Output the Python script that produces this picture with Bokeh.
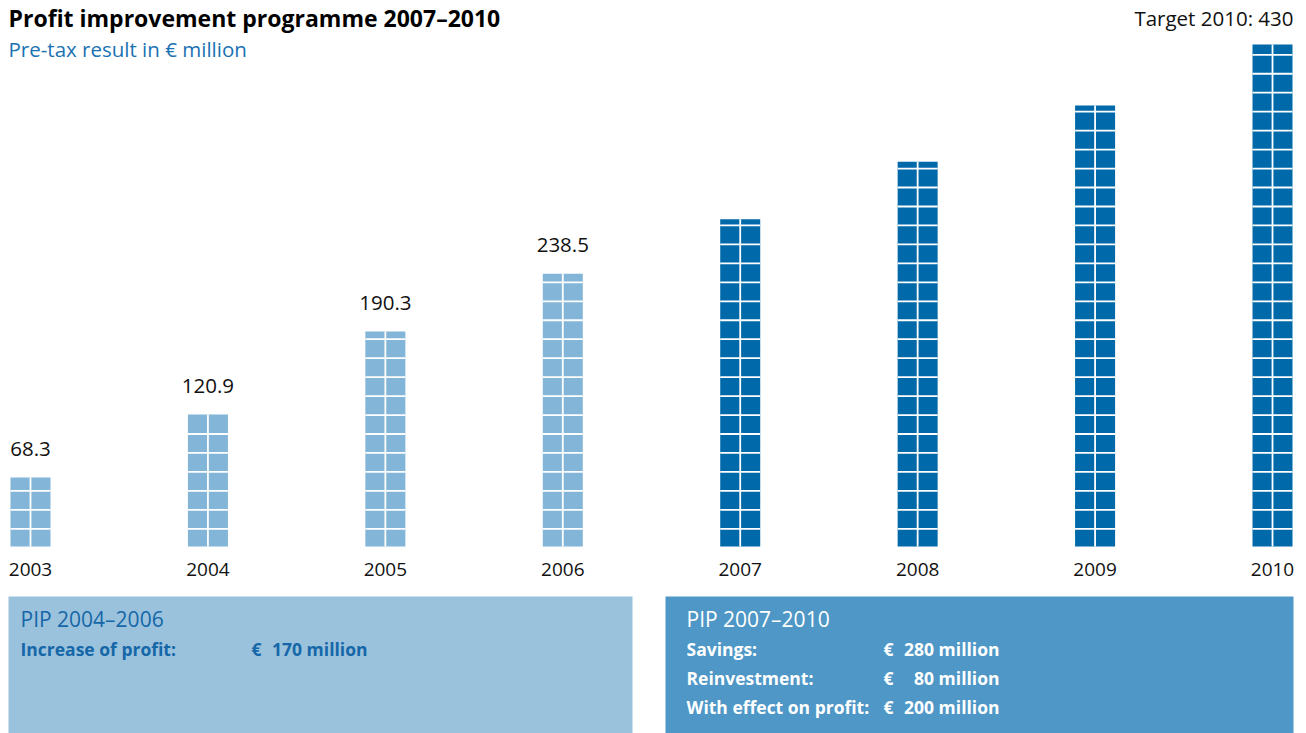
from bokeh.plotting import figure
from bokeh.models import Range1d, ColumnDataSource
from bokeh.core.properties import value
from bokeh.embed import file_html
from bokeh.resources import INLINE

# ---- data ----
years = [2003, 2004, 2005, 2006, 2007, 2008, 2009, 2010]
results = [68.3, 120.9, 190.3, 238.5, 284, 332, 379, 430]
value_labels = ["68.3", "120.9", "190.3", "238.5", "", "", "", ""]
year_labels = [str(y) for y in years]
target_label = "Target 2010: 430"
title = "Profit improvement programme 2007\u20132010"
subtitle = "Pre-tax result in \u20ac million"
pip1_title = "PIP 2004\u20132006"
pip1_rows = ["Increase of profit:"]
pip1_vals = ["170 million"]
pip2_title = "PIP 2007\u20132010"
pip2_rows = ["Savings:", "Reinvestment:", "With effect on profit:"]
pip2_vals = ["280 million", "80 million", "200 million"]

# ---- styles ----
LIGHT = "#82b5d7"
DARK = "#0069aa"
BOX1 = "#9bc2dd"
BOX2 = "#4e97c6"
TXT_BLUE = "#1a72b3"
BOX1_TXT = "#1567a7"
FONT = "Open Sans"

W, H = 1300, 733
KX = 177.43          # px per year
X0PX = 30            # px of first bar centre
BASE = 10.66         # value at bar baseline
S = 1.1971           # px per value unit
BASEPX = 546

def X(px):
    return years[0] + (px - X0PX) / KX

def Y(py):
    return BASE + (BASEPX - py) / S

def TYv(py, size):
    # baseline correction for text rendering
    return Y(py - 0.42 * size)

p = figure(width=W, height=H, output_backend="svg", toolbar_location=None,
           x_range=Range1d(X(0), X(W)), y_range=Range1d(Y(H), Y(0)),
           x_axis_location=None, y_axis_location=None, min_border=0,
           tools="")
p.outline_line_color = None
p.xgrid.visible = False
p.ygrid.visible = False
p.background_fill_color = "white"
p.border_fill_color = "white"

colors = [LIGHT if y <= 2006 else DARK for y in years]
bw = 40 / KX
src = ColumnDataSource(dict(x=years, top=results, color=colors,
                            vl=value_labels, yl=year_labels))
p.vbar(x="x", top="top", bottom=BASE, width=bw, fill_color="color",
       line_color=None, source=src)

# cell pattern (white lines)
x0s, x1s, y0s, y1s = [], [], [], []
cell = 18.96
first = 17.7
for xv, tv in zip(years, results):
    k = 0
    while True:
        lv = BASE + (first + cell * k) / S
        if lv > tv - 1.0 / S:
            break
        x0s.append(xv - bw / 2); x1s.append(xv + bw / 2)
        y0s.append(lv); y1s.append(lv)
        k += 1
    x0s.append(xv); x1s.append(xv); y0s.append(BASE); y1s.append(tv)
p.segment(x0=x0s, y0=y0s, x1=x1s, y1=y1s, line_color="white", line_width=1.8)

# value labels and year labels
VS = 20.5
p.text(x="x", y="top", text="vl", source=src, text_align="center",
       text_baseline="alphabetic", y_offset=-20 - 0.42 * VS, text_font=value(FONT),
       text_font_size=f"{VS}px", text_color="#111111")
YS = 19
p.text(x="x", y=TYv(577, YS), text="yl", source=src, text_align="center",
       text_baseline="alphabetic", text_font=value(FONT),
       text_font_size=f"{YS}px", text_color="#111111")

# titles
p.text(x=[X(8)], y=[TYv(27, 23)], text=[title], text_font=value(FONT),
       text_font_size="23px", text_font_style="bold", text_color="#000000",
       text_baseline="alphabetic")
p.text(x=[X(8)], y=[TYv(57, 20)], text=[subtitle], text_font=value(FONT),
       text_font_size="20.5px", text_color=TXT_BLUE, text_baseline="alphabetic")
p.text(x=[X(1293)], y=[TYv(26, 20.5)], text=[target_label], text_font=value(FONT),
       text_font_size="20.5px", text_color="#111111", text_baseline="alphabetic",
       text_align="right")

# boxes
p.quad(left=[X(8), X(665)], right=[X(632), X(1293)],
       top=[Y(596), Y(596)], bottom=[Y(H + 10), Y(H + 10)],
       fill_color=[BOX1, BOX2], line_color=None)

BT = 21
BR = 17.5
row_py = [656, 685, 714]
n1 = len(pip1_rows)
n2 = len(pip2_rows)
p.text(x=[X(20)], y=[TYv(627, BT)], text=[pip1_title], text_font=value(FONT),
       text_font_size=f"{BT}px", text_color=BOX1_TXT, text_baseline="alphabetic")
p.text(x=[X(20)] * n1, y=[TYv(v, BR) for v in row_py[:n1]],
       text=pip1_rows, text_font=value(FONT), text_font_size=f"{BR}px",
       text_font_style="bold", text_color=BOX1_TXT, text_baseline="alphabetic")
p.text(x=[X(251)] * n1, y=[TYv(v, BR) for v in row_py[:n1]],
       text=["\u20ac"] * n1, text_font=value(FONT), text_font_size=f"{BR}px",
       text_font_style="bold", text_color=BOX1_TXT, text_baseline="alphabetic")
p.text(x=[X(367)] * n1, y=[TYv(v, BR) for v in row_py[:n1]],
       text=pip1_vals, text_font=value(FONT), text_font_size=f"{BR}px",
       text_font_style="bold", text_color=BOX1_TXT, text_baseline="alphabetic",
       text_align="right")

p.text(x=[X(686)], y=[TYv(627, BT)], text=[pip2_title], text_font=value(FONT),
       text_font_size=f"{BT}px", text_color="white", text_baseline="alphabetic")
p.text(x=[X(686)] * n2, y=[TYv(v, BR) for v in row_py],
       text=pip2_rows, text_font=value(FONT), text_font_size=f"{BR}px",
       text_font_style="bold", text_color="white", text_baseline="alphabetic")
p.text(x=[X(883)] * n2, y=[TYv(v, BR) for v in row_py],
       text=["\u20ac"] * n2, text_font=value(FONT), text_font_size=f"{BR}px",
       text_font_style="bold", text_color="white", text_baseline="alphabetic")
p.text(x=[X(999)] * n2, y=[TYv(v, BR) for v in row_py],
       text=pip2_vals, text_font=value(FONT), text_font_size=f"{BR}px",
       text_font_style="bold", text_color="white", text_baseline="alphabetic",
       text_align="right")

open("out.html", "w").write(file_html(p, INLINE))
